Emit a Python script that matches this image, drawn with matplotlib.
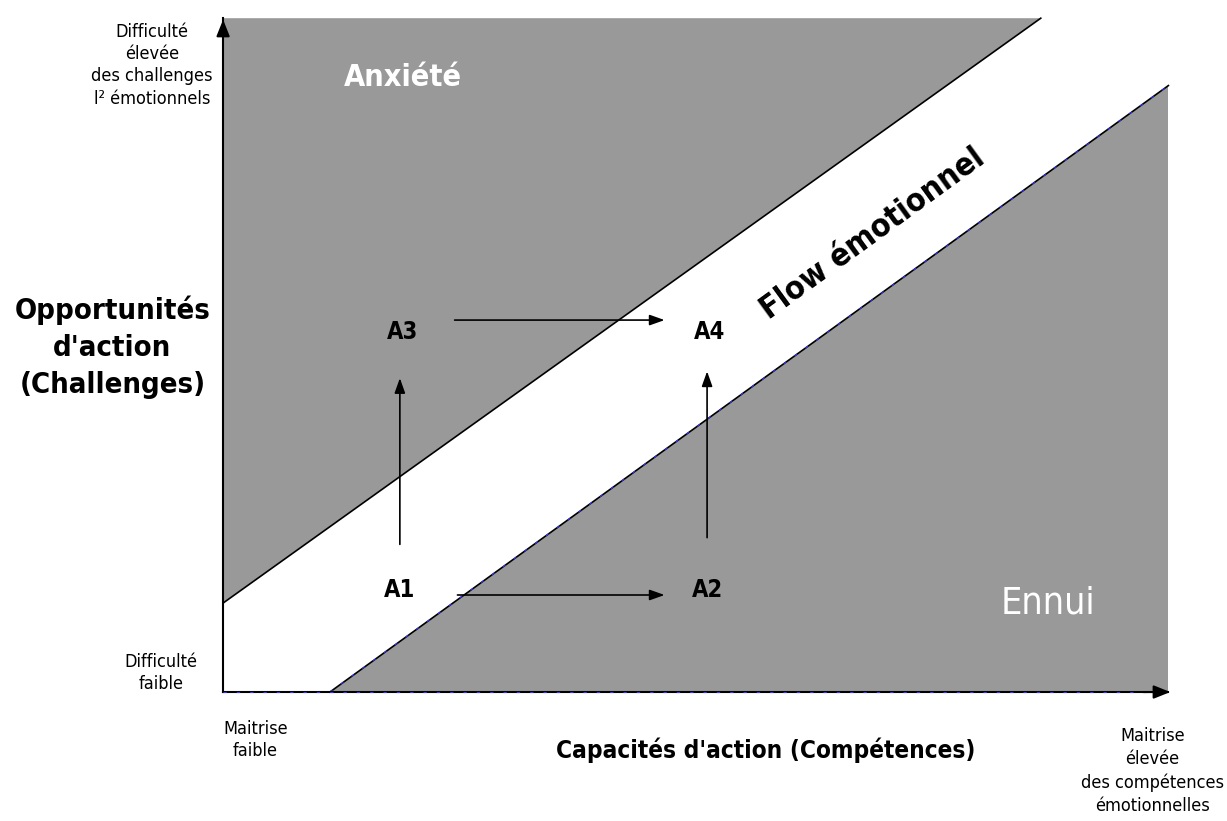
import matplotlib.pyplot as plt
from matplotlib.patches import Polygon

plt.rcParams['font.family'] = ['DejaVu Sans', 'Liberation Sans']
plt.rcParams['font.stretch'] = 'condensed'

# diagram coordinates: skills (x) and challenges (y), both 0..10
x_max, y_max = 10.0, 10.0
upper_line = [(0.0, 1.32), (8.65, 10.0)]   # anxiety / flow border
lower_line = [(1.13, 0.0), (10.0, 9.0)]    # flow / boredom border

states = ["A1", "A2", "A3", "A4"]
state_x = [1.87, 5.12, 1.90, 5.15]
state_y = [1.51, 1.51, 5.34, 5.34]

# transitions as arrow start/end in diagram units
moves_start = [(1.87, 2.15), (2.45, 1.44), (2.42, 5.52), (5.12, 2.25)]
moves_end = [(1.87, 4.70), (4.70, 1.44), (4.70, 5.52), (5.12, 4.80)]

grey = "#999999"

fig = plt.figure(figsize=(12.27, 8.21), dpi=100)
ax = fig.add_axes([0, 0, 1, 1])
ax.set_xlim(-2.36, 10.62)
ax.set_ylim(-1.914, 10.27)
ax.axis("off")

# anxiety zone
ax.add_patch(Polygon([(0, upper_line[0][1]), upper_line[1], (0, y_max)],
                     closed=True, facecolor=grey, edgecolor="none"))
# boredom zone
ax.add_patch(Polygon([lower_line[0], (x_max, 0), lower_line[1]],
                     closed=True, facecolor=grey, edgecolor="none"))

ax.plot(*zip(*upper_line), color="black", lw=1.2)
ax.plot(*zip(*lower_line), color="black", lw=1.2)
ax.plot(*zip(*lower_line), color="#3030ff", lw=0.8, ls=(0, (3, 9)))

# axes with arrow heads
ax.plot([0, 0], [0, y_max], color="black", lw=1.5)
ax.plot([0, x_max], [0, 0], color="black", lw=1.5)
ax.plot([0, x_max], [0, 0], color="#3030ff", lw=0.8, ls=(0, (3, 9)))
head = "-|>,head_length=1.0,head_width=0.4"
ax.annotate("", xy=(0, y_max + 0.02), xytext=(0, y_max - 0.3),
            arrowprops=dict(arrowstyle=head, color="black", lw=1.5))
ax.annotate("", xy=(x_max + 0.05, 0), xytext=(x_max - 0.3, 0),
            arrowprops=dict(arrowstyle=head, color="black", lw=1.5))

for (x0, y0), (x1, y1) in zip(moves_start, moves_end):
    ax.annotate("", xy=(x1, y1), xytext=(x0, y0),
                arrowprops=dict(arrowstyle="-|>,head_length=0.9,head_width=0.32",
                                color="black", lw=1.2))

for name, x, y in zip(states, state_x, state_y):
    ax.text(x, y, name, ha="center", va="center", fontsize=17,
            fontweight="bold", color="black")

ax.text(1.90, 9.12, "Anxiété", ha="center", va="center", fontsize=22,
        fontweight="bold", color="white")
ax.text(8.73, 1.32, "Ennui", ha="center", va="center", fontsize=27,
        color="white")
ax.text(6.87, 6.8, "Flow émotionnel", ha="center", va="center", fontsize=23,
        fontweight="bold", rotation=36, rotation_mode="anchor")

ax.text(-1.17, 5.12, "Opportunités\nd'action\n(Challenges)", ha="center",
        va="center", fontsize=21, fontweight="bold", linespacing=1.4)
ax.text(5.74, -0.86, "Capacités d'action (Compétences)", ha="center",
        va="center", fontsize=17.5, fontweight="bold")

small = dict(fontsize=13, ha="center", va="center", linespacing=1.3)
ax.text(-0.75, 9.3, "Difficulté\nélevée\ndes challenges\nl² émotionnels", **small)
ax.text(-0.66, 0.28, "Difficulté\nfaible", **small)
ax.text(0.34, -0.71, "Maitrise\nfaible", **small)
ax.text(9.83, -1.17, "Maitrise\nélevée\ndes compétences\némotionnelles",
        fontsize=13, ha="center", va="center", linespacing=1.35)

fig.savefig("out.png", dpi=100)
